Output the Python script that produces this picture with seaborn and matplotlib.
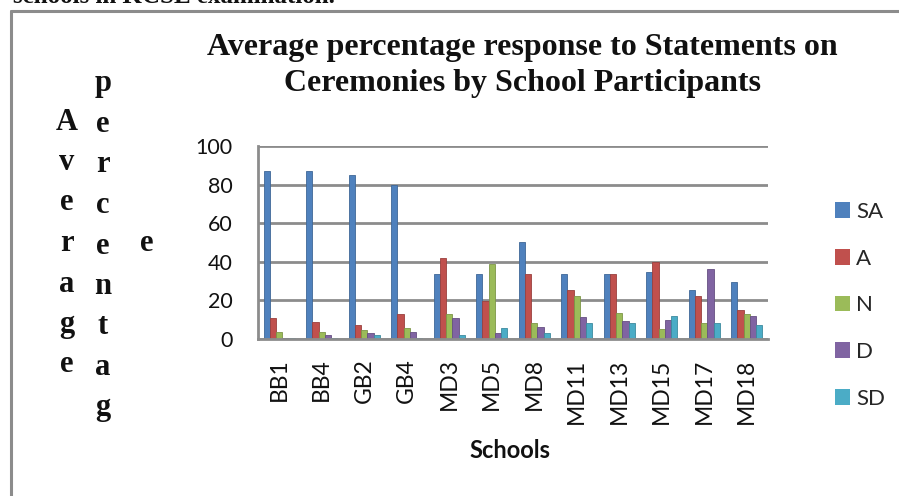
import matplotlib
matplotlib.use("Agg")
import matplotlib.pyplot as plt
import seaborn as sns
import pandas as pd
from matplotlib.lines import Line2D
from matplotlib.patches import Patch

schools = ["BB1", "BB4", "GB2", "GB4", "MD3", "MD5", "MD8", "MD11", "MD13", "MD15", "MD17", "MD18"]
responses = ["SA", "A", "N", "D", "SD"]
sa = [87, 87, 85, 80, 33.5, 33.5, 50.5, 33.5, 33.5, 34.5, 25.5, 29.5]
a = [11, 9, 7, 13, 42, 19.5, 33.5, 25.5, 33.5, 40, 22.5, 15]
n = [3.5, 3.5, 4.5, 5.5, 13, 39, 8.5, 22.5, 13.5, 5, 8.5, 13]
d = [0.5, 2.2, 3, 3.5, 11, 3, 6, 11.5, 9.5, 10, 36.5, 12]
sd = [0.3, 0.5, 2.3, 0.7, 2.3, 5.5, 3, 8.5, 8.5, 12, 8.5, 7]
colors = ["#4F81BD", "#C0504D", "#9BBB59", "#8064A2", "#4BACC6"]

df = pd.DataFrame({
    "School": schools * 5,
    "Response": [r for r in responses for _ in schools],
    "Value": sa + a + n + d + sd,
})

sns.set_theme(style="white")
W, H = 899, 496
fig = plt.figure(figsize=(W / 100, H / 100), dpi=100)

def fx(px):
    return px / W

def fy(py):
    return 1 - py / H

ax = fig.add_axes([fx(258), fy(339), fx(768) - fx(258), fy(146) - fy(339)])
sns.barplot(data=df, x="School", y="Value", hue="Response", hue_order=responses,
            palette=colors, width=0.74, saturation=1, ax=ax, legend=False,
            edgecolor="none")

# darker outline on each bar for a little depth
for bar in ax.patches:
    r, g, b, _ = bar.get_facecolor()
    bar.set_edgecolor((r * 0.8, g * 0.8, b * 0.8, 1))
    bar.set_linewidth(0.6)

grid_c = "#8C8C8C"
ax.set_ylim(0, 100)
ax.set_xlim(-0.5, len(schools) - 0.5)
ax.set_yticks(range(0, 101, 20))
ax.yaxis.grid(True, color=grid_c, linewidth=2)
ax.set_axisbelow(True)
for s in ["top", "right"]:
    ax.spines[s].set_visible(False)
for s in ["left", "bottom"]:
    ax.spines[s].set_color(grid_c)
    ax.spines[s].set_linewidth(2)

ax.set_xticks(range(len(schools)))
ax.set_xticklabels(schools, rotation=90)
ax.set_xticks([i - 0.5 for i in range(len(schools) + 1)], minor=True)
ax.tick_params(axis="x", which="major", length=0, pad=14, labelsize=16.5,
               labelfontfamily="Lato", labelcolor="#111111")
ax.tick_params(axis="x", which="minor", length=8, width=2, color=grid_c, direction="out")
ax.tick_params(axis="y", length=6, width=2, color=grid_c, direction="out", pad=12.5,
               labelsize=15.5, labelfontfamily="Lato", labelcolor="#111111")
ax.set_xlabel("")
ax.set_ylabel("")

fig.text(fx(510), fy(450), "Schools", ha="center", va="center", fontsize=17,
         fontweight="bold", family="Lato", color="#111111")

# Legend
handles = [Patch(facecolor=c, edgecolor="none") for c in colors]
fig.legend(handles, responses, loc="upper left", bbox_to_anchor=(fx(826), fy(193)),
           frameon=False, prop={"family": "Lato", "size": 16},
           handlelength=0.7, handleheight=0.7, handletextpad=0.25,
           labelspacing=1.2, borderaxespad=0)

# Title
fig.text(fx(522), fy(47), "Average percentage response to Statements on",
         ha="center", va="center", fontsize=23, fontweight="bold",
         family="Liberation Serif", color="#111111")
fig.text(fx(522), fy(84), "Ceremonies by School Participants",
         ha="center", va="center", fontsize=23, fontweight="bold",
         family="Liberation Serif", color="#111111")

# Y-axis title stacked letter by letter
ylab_cols = [
    (67, 122, "Average"),
    (103, 84, "percentag"),
    (147, 243, "e"),
]
for x0, y0, word in ylab_cols:
    for i, ch in enumerate(word):
        fig.text(fx(x0), fy(y0 + i * 40.5), ch, ha="center", va="center",
                 fontsize=22, fontweight="bold", family="Liberation Serif",
                 color="#111111")

# Preceding caption line, partly above the frame
fig.text(fx(13), fy(3), "schools in KCSE examination.", ha="left", va="baseline",
         fontsize=18, fontweight="bold", family="Liberation Serif", color="#111111")

# Chart frame
fig.add_artist(Line2D([fx(10.5), fx(10.5)], [fy(11), 0], color="#8C8C8C", linewidth=2.2))
fig.add_artist(Line2D([fx(10.5), 1], [fy(11), fy(11)], color="#8C8C8C", linewidth=2.2))

fig.savefig("out.png", dpi=100)
